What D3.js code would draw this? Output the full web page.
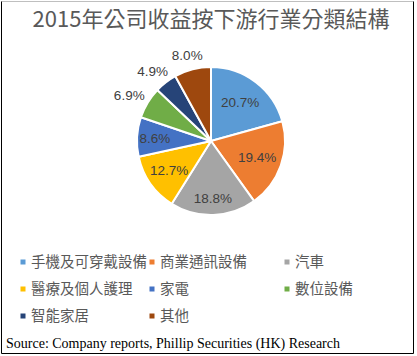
<!DOCTYPE html>
<html><head><meta charset="utf-8">
<script src="https://cdn.jsdelivr.net/npm/d3@7"></script>
<style>body{margin:0;background:#fff}svg{display:block}</style>
</head><body>
<svg id="c" width="417" height="356"></svg>
<script>
const categories = ["手機及可穿戴設備","商業通訊設備","汽車","醫療及個人護理","家電","數位設備","智能家居","其他"];
const values = [20.7, 19.4, 18.8, 12.7, 8.6, 6.9, 4.9, 8.0];
const colors = ["#5B9BD5","#ED7D31","#A5A5A5","#FFC000","#4472C4","#70AD47","#264478","#9E480E"];
const outsideLabel = [false,false,false,false,false,true,true,true];
const insideLabelRadius = [0.65,0.66,0.78,0.69,0.76,0.7,0.7,0.7];
const title = "2015年公司收益按下游行業分類結構";
const source = "Source: Company reports, Phillip Securities (HK) Research";

const svg = d3.select("#c");
const W = 417, H = 356;
svg.append("rect").attr("width",W).attr("height",H).attr("fill","#fff");
svg.append("line").attr("x1",1.5).attr("x2",413.5).attr("y1",1.5).attr("y2",1.5).attr("stroke","#bfbfbf");
svg.append("path").attr("d","M1.5,1.5V353.5H413.5V1.5").attr("fill","none").attr("stroke","#000");

svg.append("text").attr("x",211).attr("y",27).attr("text-anchor","middle")
  .attr("font-family","'Noto Sans CJK TC','Noto Sans',sans-serif").attr("font-size",22)
  .attr("fill","#595959").text(title);

const cx = 211, cy = 141, r = 74;
const pie = d3.pie().sort(null).value(d=>d)(values);
const arc = d3.arc().innerRadius(0).outerRadius(r);
const g = svg.append("g").attr("transform",`translate(${cx},${cy})`);
g.selectAll("path").data(pie).join("path").attr("d",arc)
  .attr("fill",(d,i)=>colors[i]).attr("stroke","#fff").attr("stroke-width",2).attr("stroke-linejoin","round");

function labelPos(d,i){
  const a = (d.startAngle+d.endAngle)/2;
  const dx = Math.sin(a), dy = -Math.cos(a);
  if(!outsideLabel[i]){
    const k = insideLabelRadius[i]*r;
    return [dx*k, dy*k];
  }
  const gap = r+8, w = 27, h = 12;
  return [dx*gap + dx*w/2, dy*gap + dy*h/2];
}
g.selectAll("text.lab").data(pie).join("text").attr("class","lab")
  .attr("transform",(d,i)=>`translate(${labelPos(d,i)})`)
  .attr("text-anchor","middle").attr("dy","0.35em")
  .attr("font-family","'Liberation Sans',Arial,sans-serif").attr("font-size",13.5)
  .attr("fill","#404040").text(d=>d.data.toFixed(1)+"%");

const colX = [23,152,287];
const rowY = [262,289,316];
const lg = svg.append("g");
categories.forEach((c,i)=>{
  const x = colX[i%3], y = rowY[Math.floor(i/3)];
  lg.append("rect").attr("x",x-2.5).attr("y",y-2.5).attr("width",5).attr("height",5).attr("fill",colors[i]);
  lg.append("text").attr("x",x+8).attr("y",y).attr("dy","0.35em")
    .attr("font-family","'Noto Sans CJK TC',sans-serif").attr("font-size",14.5)
    .attr("fill","#595959").text(c);
});

svg.append("text").attr("x",6).attr("y",348)
  .attr("font-family","'Liberation Serif','Times New Roman',serif").attr("font-size",14)
  .attr("fill","#000").text(source);
</script>
</body></html>
